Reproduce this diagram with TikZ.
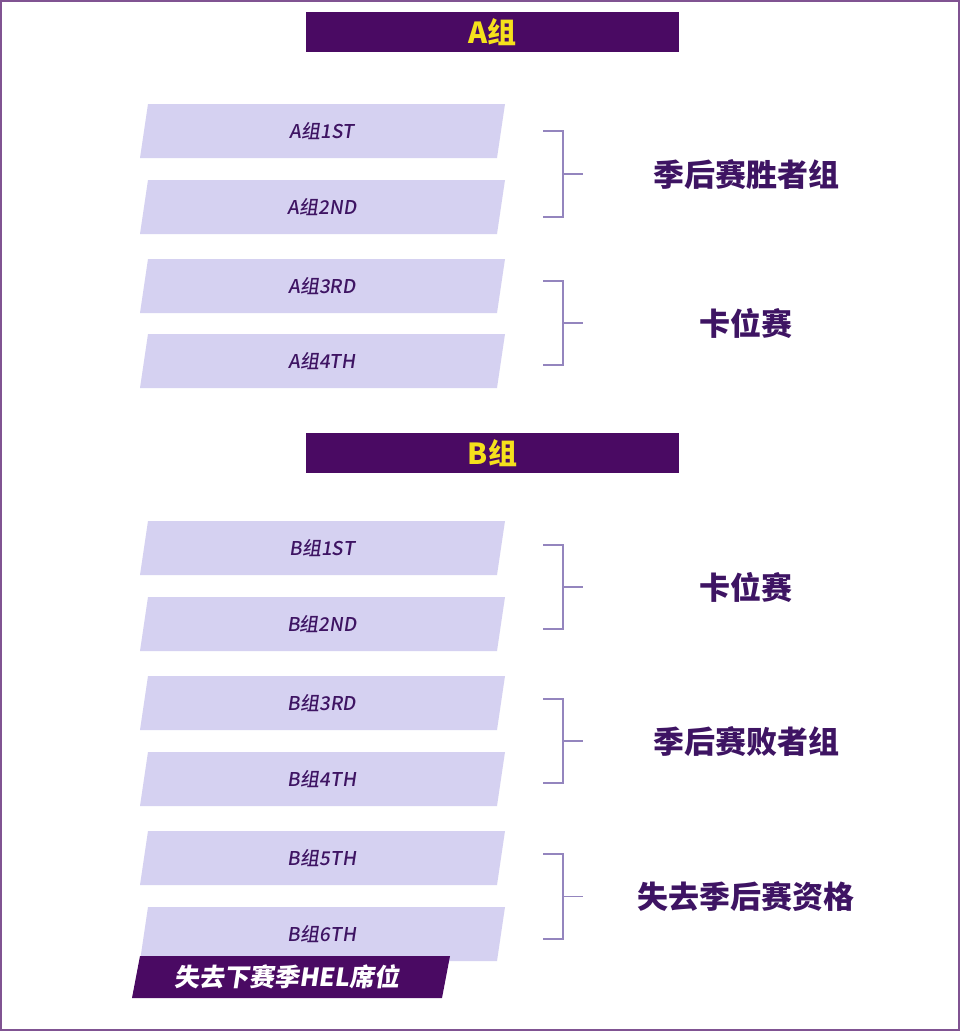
\documentclass[tikz,border=0pt]{standalone}
\usepackage{fontspec}
\setmainfont{Noto Sans CJK SC}
\newfontfamily\cjkb[FakeSlant=0.15]{Noto Sans CJK SC Black}
\newfontfamily\cjkbold{Noto Sans CJK SC Black}
\newfontfamily\cjksl[FakeSlant=0.15]{Noto Sans CJK SC Medium}
\definecolor{dp}{HTML}{4A0A63}
\definecolor{lp}{HTML}{D5D1F1}
\definecolor{tp}{HTML}{3E1463}
\definecolor{yl}{HTML}{F5E11C}
\definecolor{br}{HTML}{9485BE}
\tikzset{rowtxt/.style={text=tp,font=\cjksl\fontsize{19}{19}\selectfont},
 restxt/.style={text=tp,font=\cjkbold\fontsize{31}{31}\selectfont},
 hdr/.style={fill=dp,minimum width=373pt,minimum height=40pt,inner sep=0pt,text=yl,font=\cjkbold\fontsize{29}{29}\selectfont},
 brk/.style={draw=br,line width=1.3pt}}
\begin{document}
\begin{tikzpicture}[x=1pt,y=-1pt]
\useasboundingbox (0,0) rectangle (960,1031);
\fill[white] (0,0) rectangle (960,1031);
\draw[dp!70,line width=2pt] (1,1) rectangle (959,1030);
\node[hdr] (ha) at (492.5,32) {A组};
\node[hdr] (hb) at (492.5,453) {B组};
\foreach \n/\t/\y in {a1/A组1ST/104,a2/A组2ND/180,a3/A组3RD/259,a4/A组4TH/334,b1/B组1ST/521,b2/B组2ND/597,b3/B组3RD/676,b4/B组4TH/752,b5/B组5TH/831,b6/B组6TH/907}{
 \fill[lp] (148,\y) -- (505,\y) -- (497,\y+54) -- (140,\y+54) -- cycle;
 \node[rowtxt] (\n) at (322,\y+27) {\t};
}
\fill[dp] (140,956) -- (450,956) -- (442,998) -- (132,998) -- cycle;
\node[text=white,font=\cjkb\fontsize{25}{25}\selectfont] (lose) at (287,977) {失去下赛季HEL席位};
\foreach \n/\t/\a/\b in {r1/季后赛胜者组/131/217,r2/卡位赛/281/365,r3/卡位赛/545/629,r4/季后赛败者组/699/783,r5/失去季后赛资格/854/939}{
 \draw[brk] (543,\a) -- (563,\a) -- (563,\b) -- (543,\b);
 \coordinate (\n m) at (563,{(\a+\b)/2});
 \draw[brk] (\n m) -- ++(20,0);
 \node[restxt] (\n) at (746,{(\a+\b)/2}) {\t};
}
\end{tikzpicture}
\end{document}
